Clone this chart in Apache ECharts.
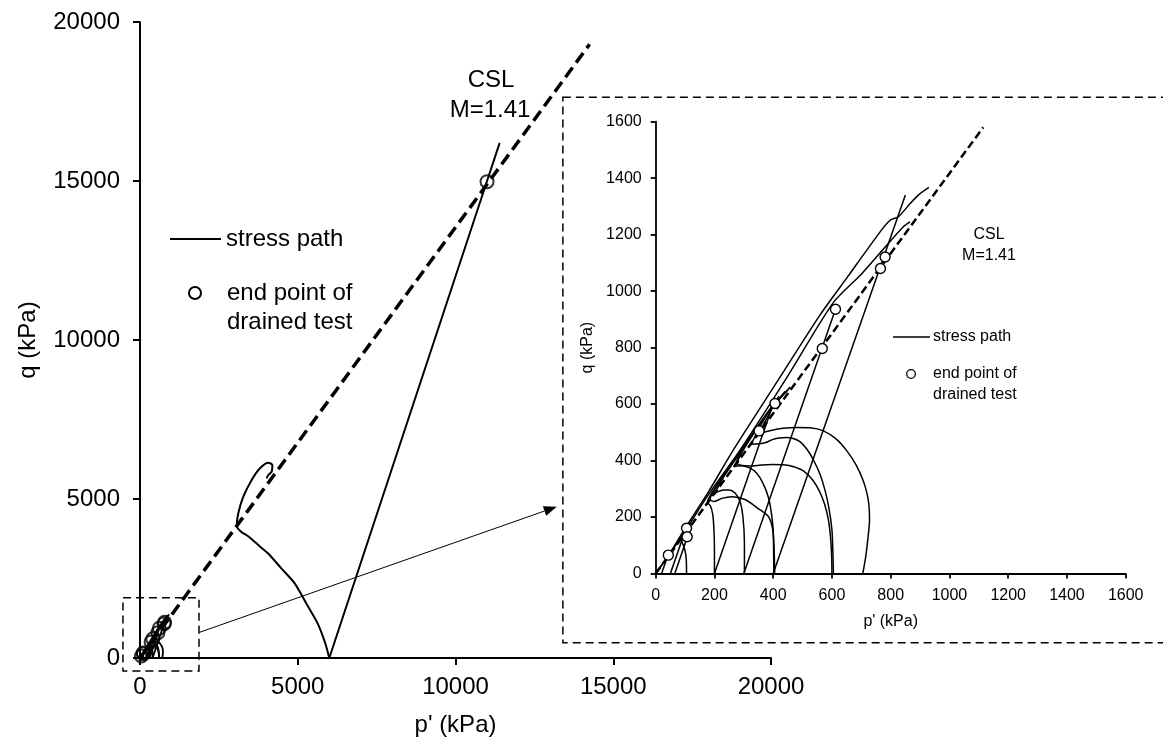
<!DOCTYPE html>
<html><head><meta charset="utf-8">
<script src="https://cdn.jsdelivr.net/npm/echarts@6/dist/echarts.min.js"></script>
<style>html,body{margin:0;padding:0;background:#fff}#c{width:1163px;height:746px}</style>
</head><body><div id="c"></div>
<script>
// ---------- main chart data (kPa) ----------
const MAIN_TICKS = [0, 5000, 10000, 15000, 20000];
const MAIN_CSL_P = [0, 14250];
const MAIN_CSL_Q = [0, 19300];
const MAIN_DRAINED_P = [6000, 11000, 11400];
const MAIN_DRAINED_Q = [0, 15000, 16200];
const MAIN_UNDRAINED_P = [6000, 5873, 5630, 5268, 4903, 4478, 4054, 3810, 3448, 3204, 3065, 3116, 3274, 3540, 3803, 4067, 4194, 4174, 4067, 4015];
const MAIN_UNDRAINED_Q = [0, 462, 1091, 1720, 2349, 2821, 3292, 3500, 3814, 3972, 4150, 4550, 5072, 5597, 5965, 6142, 6069, 5858, 5755, 5651];
const MAIN_END_P = [11000];
const MAIN_END_Q = [14980];

// ---------- inset data (kPa) ----------
const INSET_TICKS = [0, 200, 400, 600, 800, 1000, 1200, 1400, 1600];
const CSL_P = [0, 1115];
const CSL_Q = [0, 1580];
// undrained paths
const U100_P = [105, 104, 100, 94, 88, 100, 118];
const U100_Q = [0, 50, 80, 100, 118, 148, 175];
const U200_P = [200, 200, 198, 194, 186, 176, 200, 250, 300];
const U200_Q = [0, 80, 160, 210, 240, 252, 300, 375, 450];
const U300_P = [302, 302, 297, 287, 270, 250, 230, 212, 200, 230, 280, 340];
const U300_Q = [0, 110, 200, 255, 285, 296, 296, 290, 282, 340, 418, 508];
const U400A_P = [405, 400, 385, 349, 304, 259, 225, 200, 185, 230, 300, 380];
const U400A_Q = [0, 142, 200, 230, 262, 272, 266, 255, 262, 342, 448, 568];
const U400B_P = [402, 400, 393, 383, 365, 344, 318, 290, 268, 300, 360, 420];
const U400B_Q = [0, 150, 220, 272, 320, 355, 375, 382, 380, 450, 540, 628];
const U600A_P = [605, 603, 600, 590, 576, 560, 537, 515, 491, 468, 446, 420, 400, 366, 325, 380, 440];
const U600A_Q = [0, 80, 154, 230, 296, 350, 402, 440, 467, 478, 482, 480, 475, 461, 458, 565, 645];
const U600B_P = [600, 599, 595, 588, 575, 558, 535, 505, 470, 435, 400, 360, 320, 278, 330, 400, 450];
const U600B_Q = [0, 60, 130, 190, 245, 290, 330, 362, 378, 385, 386, 384, 381, 390, 490, 595, 650];
const U700_P = [705, 715, 722, 728, 726, 720, 706, 682, 650, 616, 571, 525, 480, 434, 400, 375, 352, 400, 458];
const U700_Q = [0, 60, 120, 190, 240, 280, 330, 385, 435, 475, 505, 516, 517, 514, 508, 502, 496, 590, 660];
// drained paths
const D20_P = [20, 43];    const D20_Q = [0, 68];
const D50_P = [50, 105];   const D50_Q = [0, 165];
const D65_P = [65, 108];   const D65_Q = [0, 130];
const D200_P = [200, 406]; const D200_Q = [0, 618];
const D300_P = [300, 612]; const D300_Q = [0, 936];
const D400_P = [400, 850]; const D400_Q = [0, 1340];
// long dilative paths
const L1_P = [0, 50, 100, 180, 264, 420, 559, 650, 764, 798, 826, 866, 894, 930];
const L1_Q = [0, 75, 160, 290, 437, 690, 915, 1046, 1210, 1251, 1263, 1310, 1340, 1367];
const L2_P = [0, 50, 100, 180, 287, 450, 605, 700, 782, 843, 866];
const L2_Q = [0, 72, 150, 280, 437, 700, 960, 1060, 1157, 1228, 1245];
// end points of drained tests
const END_P = [43, 105, 107, 352, 406, 567, 612, 765, 781];
const END_Q = [65, 160, 130, 505, 602, 797, 936, 1080, 1121];

const FONT = '"Liberation Sans", Arial, sans-serif';
const pairs = (P, Q) => P.map((p, i) => [p, Q[i]]);

const INSET_PATHS = [
  [U100_P, U100_Q, true], [U200_P, U200_Q, true], [U300_P, U300_Q, true], [U400A_P, U400A_Q, true],
  [U400B_P, U400B_Q, true], [U600A_P, U600A_Q, true], [U600B_P, U600B_Q, true], [U700_P, U700_Q, true],
  [D20_P, D20_Q, false], [D50_P, D50_Q, false], [D65_P, D65_Q, false], [D200_P, D200_Q, false],
  [D300_P, D300_Q, false], [D400_P, D400_Q, false], [L1_P, L1_Q, true], [L2_P, L2_Q, true]
];

function axisCommon(ticks, fontSize, lw, tickLen, margin) {
  return {
    type: 'value', min: ticks[0], max: ticks[ticks.length - 1], interval: ticks[1] - ticks[0],
    axisLine: {show: true, onZero: false, lineStyle: {color: '#000', width: lw}},
    axisTick: {show: true, length: tickLen, lineStyle: {color: '#000', width: lw}},
    axisLabel: {color: '#000', fontSize: fontSize, fontFamily: FONT, margin: margin, formatter: v => String(v)},
    splitLine: {show: false},
    nameLocation: 'middle',
    nameTextStyle: {color: '#000', fontSize: fontSize, fontFamily: FONT}
  };
}

const series = [];
function pathSeries(P, Q, gi, w, smooth) {
  series.push({
    type: 'line', xAxisIndex: gi, yAxisIndex: gi, data: pairs(P, Q), showSymbol: false,
    smooth: smooth ? 0.25 : false, lineStyle: {color: '#000', width: w}, z: 2, silent: true, clip: true
  });
}
// main
pathSeries(MAIN_DRAINED_P, MAIN_DRAINED_Q, 0, 2, false);
pathSeries(MAIN_UNDRAINED_P, MAIN_UNDRAINED_Q, 0, 2, true);
INSET_PATHS.forEach(s => pathSeries(s[0], s[1], 0, 1.8, s[2]));
series.push({type: 'line', xAxisIndex: 0, yAxisIndex: 0, data: pairs(MAIN_CSL_P, MAIN_CSL_Q), showSymbol: false,
  lineStyle: {color: '#000', width: 3.5, type: [12, 6]}, z: 3, silent: true});
series.push({type: 'scatter', xAxisIndex: 0, yAxisIndex: 0, data: pairs(END_P, END_Q).concat(pairs(MAIN_END_P, MAIN_END_Q)),
  symbol: 'circle', symbolSize: 13, itemStyle: {color: 'rgba(255,255,255,0)', borderColor: '#000', borderWidth: 2}, z: 4, silent: true});
// inset
INSET_PATHS.forEach(s => pathSeries(s[0], s[1], 1, 1.5, s[2]));
series.push({type: 'line', xAxisIndex: 1, yAxisIndex: 1, data: pairs(CSL_P, CSL_Q), showSymbol: false,
  lineStyle: {color: '#000', width: 2.5, type: [8, 4]}, z: 3, silent: true});
series.push({type: 'scatter', xAxisIndex: 1, yAxisIndex: 1, data: pairs(END_P, END_Q),
  symbol: 'circle', symbolSize: 10, itemStyle: {color: '#fff', borderColor: '#000', borderWidth: 1.4, opacity: 1}, z: 4, silent: true});

const xMain = Object.assign(axisCommon(MAIN_TICKS, 24, 2, 7, 17), {gridIndex: 0, name: "p' (kPa)", nameGap: 55});
const yMain = Object.assign(axisCommon(MAIN_TICKS, 24, 2, 7, 20), {gridIndex: 0, name: 'q (kPa)', nameGap: 100});
const xIn = Object.assign(axisCommon(INSET_TICKS, 16, 1.8, 5, 14), {gridIndex: 1, name: "p' (kPa)", nameGap: 40});
const yIn = Object.assign(axisCommon(INSET_TICKS, 16, 1.8, 5, 14), {gridIndex: 1, name: 'q (kPa)', nameGap: 60});

const chart = echarts.init(document.getElementById('c'), null, {renderer: 'canvas'});
chart.setOption({
  animation: false,
  backgroundColor: '#fff',
  grid: [
    {left: 140, top: 22, width: 631, height: 636},
    {left: 655.7, top: 121.7, width: 470, height: 451.8}
  ],
  xAxis: [xMain, xIn],
  yAxis: [yMain, yIn],
  series: series
});

// annotations positioned through the axes
const pm = (p, q) => chart.convertToPixel({gridIndex: 0}, [p, q]);
const pi = (p, q) => chart.convertToPixel({gridIndex: 1}, [p, q]);
const b0 = pm(-540, 1896), b1 = pm(1870, -410);
const i0 = pi(-316, 1687), i1 = pi(0, -245);
const a0 = pm(1890, 808), a1 = pm(13210, 4758);
const dx = a1[0] - a0[0], dy = a1[1] - a0[1], len = Math.hypot(dx, dy);
const ux = dx / len, uy = dy / len, ah = 13, aw = 5;
const base = [a1[0] - ux * ah, a1[1] - uy * ah];
const dash = {stroke: '#000', lineWidth: 1.5, lineDash: [8, 5], fill: null};
const txt = (x, y, text, size, align) => ({type: 'text', x: x, y: y, z: 10,
  style: {text: text, font: size + 'px ' + FONT, fill: '#000', align: align || 'left', verticalAlign: 'middle'}});

chart.setOption({
  graphic: [
    {type: 'rect', shape: {x: b0[0], y: b0[1], width: b1[0] - b0[0], height: b1[1] - b0[1]}, style: dash, z: 10},
    {type: 'rect', shape: {x: i0[0], y: i0[1], width: 1163 - i0[0] + 20, height: i1[1] - i0[1]}, style: dash, z: 10},
    {type: 'line', shape: {x1: a0[0], y1: a0[1], x2: base[0], y2: base[1]}, style: {stroke: '#000', lineWidth: 1}, z: 10},
    {type: 'polygon', shape: {points: [a1, [base[0] - uy * aw, base[1] + ux * aw], [base[0] + uy * aw, base[1] - ux * aw]]}, style: {fill: '#000'}, z: 10},
    // main labels
    txt(491, 80, 'CSL', 24, 'center'),
    txt(490, 110, 'M=1.41', 24, 'center'),
    {type: 'line', shape: {x1: 170, y1: 239, x2: 221, y2: 239}, style: {stroke: '#000', lineWidth: 2}, z: 10},
    txt(226, 239, 'stress path', 24),
    {type: 'circle', shape: {cx: 195, cy: 293, r: 6}, style: {fill: '#fff', stroke: '#000', lineWidth: 2}, z: 10},
    txt(227, 293, 'end point of', 24),
    txt(227, 322, 'drained test', 24),
    // inset labels
    txt(989, 235, 'CSL', 16, 'center'),
    txt(989, 256, 'M=1.41', 16, 'center'),
    {type: 'line', shape: {x1: 893, y1: 337, x2: 930, y2: 337}, style: {stroke: '#000', lineWidth: 1.5}, z: 10},
    txt(933, 337, 'stress path', 16),
    {type: 'circle', shape: {cx: 911, cy: 374, r: 4.3}, style: {fill: '#fff', stroke: '#000', lineWidth: 1.3}, z: 10},
    txt(933, 374, 'end point of', 16),
    txt(933, 395, 'drained test', 16)
  ]
});
</script></body></html>
